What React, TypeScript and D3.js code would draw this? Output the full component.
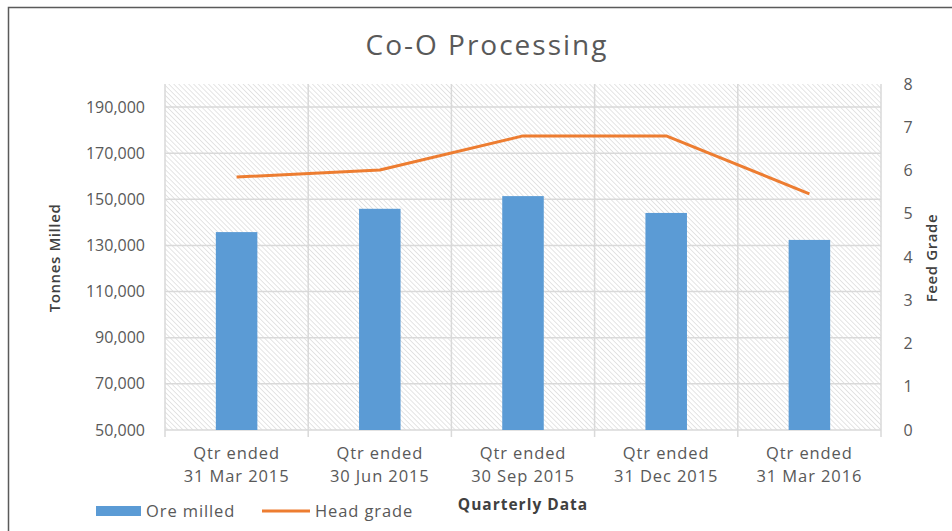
import React, { useEffect, useRef } from "react";
import * as d3 from "d3";

const categories = [
  ["Qtr ended", "31 Mar 2015"],
  ["Qtr ended", "30 Jun 2015"],
  ["Qtr ended", "30 Sep 2015"],
  ["Qtr ended", "31 Dec 2015"],
  ["Qtr ended", "31 Mar 2016"],
];
const oreMilled = [135800, 145900, 151400, 144100, 132400];
const headGrade = [5.85, 6.01, 6.8, 6.8, 5.46];
const leftTicks = [50000, 70000, 90000, 110000, 130000, 150000, 170000, 190000];
const rightTicks = [0, 1, 2, 3, 4, 5, 6, 7, 8];

const FONT = "'Open Sans', 'DejaVu Sans', sans-serif";

const App: React.FC = () => {
  const svgRef = useRef<SVGSVGElement>(null);

  const drawChart = () => {
    const width = 952,
      height = 531;
    const plot = { left: 165, right: 881, top: 84, bottom: 430 };

    const svg = d3.select(svgRef.current);
    svg.selectAll("*").remove();

    // hatch pattern for plot background (lines running top-left to bottom-right)
    const defs = svg.append("defs");
    const pat = defs
      .append("pattern")
      .attr("id", "hatch")
      .attr("width", 3.5)
      .attr("height", 3.5)
      .attr("patternUnits", "userSpaceOnUse")
      .attr("patternTransform", "rotate(-45)");
    pat.append("rect").attr("width", 3.5).attr("height", 3.5).attr("fill", "#fff");
    pat
      .append("line")
      .attr("x1", 0)
      .attr("y1", 0)
      .attr("x2", 0)
      .attr("y2", 3.5)
      .attr("stroke", "#d3d3d3")
      .attr("stroke-width", 1.2);

    svg.append("rect").attr("width", width).attr("height", height).attr("fill", "#fff");

    // outer border (top & left visible)
    svg
      .append("path")
      .attr("d", `M8.5,${height} V7.5 H${width}`)
      .attr("fill", "none")
      .attr("stroke", "#5a5a5a")
      .attr("stroke-width", 1.5);

    const x = d3
      .scaleBand()
      .domain(categories.map((_, i) => String(i)))
      .range([plot.left, plot.right]);
    const yL = d3.scaleLinear().domain([50000, 200000]).range([plot.bottom, plot.top]);
    const yR = d3.scaleLinear().domain([0, 8]).range([plot.bottom, plot.top]);

    svg
      .append("rect")
      .attr("x", plot.left)
      .attr("y", plot.top)
      .attr("width", plot.right - plot.left)
      .attr("height", plot.bottom - plot.top)
      .attr("fill", "url(#hatch)");

    // horizontal gridlines
    svg
      .append("g")
      .selectAll("line")
      .data(leftTicks)
      .join("line")
      .attr("x1", plot.left)
      .attr("x2", plot.right)
      .attr("y1", (d) => yL(d))
      .attr("y2", (d) => yL(d))
      .attr("stroke", "#d9d9d9")
      .attr("stroke-width", 1.5);

    // vertical category gridlines
    const bounds = categories.map((_, i) => x(String(i))!).concat([plot.right]);
    svg
      .append("g")
      .selectAll("line")
      .data(bounds)
      .join("line")
      .attr("x1", (d) => d)
      .attr("x2", (d) => d)
      .attr("y1", plot.top)
      .attr("y2", plot.bottom + 7)
      .attr("stroke", "#d9d9d9")
      .attr("stroke-width", 1.5);

    // bars
    const barW = x.bandwidth() * 0.29;
    svg
      .append("g")
      .selectAll("rect")
      .data(oreMilled)
      .join("rect")
      .attr("x", (_, i) => x(String(i))! + x.bandwidth() / 2 - barW / 2)
      .attr("y", (d) => yL(d))
      .attr("width", barW)
      .attr("height", (d) => plot.bottom - yL(d))
      .attr("fill", "#5b9bd5");

    // line
    const line = d3
      .line<number>()
      .x((_, i) => x(String(i))! + x.bandwidth() / 2)
      .y((d) => yR(d));
    svg
      .append("path")
      .datum(headGrade)
      .attr("d", line)
      .attr("fill", "none")
      .attr("stroke", "#ed7d31")
      .attr("stroke-width", 3)
      .attr("stroke-linejoin", "round");

    const txt = "#595959";

    // left axis labels
    svg
      .append("g")
      .selectAll("text")
      .data(leftTicks)
      .join("text")
      .attr("x", 145)
      .attr("y", (d) => yL(d))
      .attr("dy", "0.35em")
      .attr("text-anchor", "end")
      .attr("font-family", FONT)
      .attr("font-size", 16)
      .attr("fill", txt)
      .text((d) => d3.format(",")(d));

    // right axis labels
    svg
      .append("g")
      .selectAll("text")
      .data(rightTicks)
      .join("text")
      .attr("x", 908)
      .attr("y", (d) => yR(d))
      .attr("dy", "0.35em")
      .attr("text-anchor", "middle")
      .attr("font-family", FONT)
      .attr("font-size", 16)
      .attr("fill", txt)
      .text((d) => d);

    // category labels
    const cat = svg
      .append("g")
      .selectAll("text")
      .data(categories)
      .join("text")
      .attr("x", (_, i) => x(String(i))! + x.bandwidth() / 2)
      .attr("y", 459)
      .attr("text-anchor", "middle")
      .attr("font-family", FONT)
      .attr("font-size", 16.5)
      .attr("letter-spacing", 0.9)
      .attr("fill", txt);
    cat
      .append("tspan")
      .attr("x", (_, i) => x(String(i))! + x.bandwidth() / 2)
      .text((d) => d[0]);
    cat
      .append("tspan")
      .attr("x", (_, i) => x(String(i))! + x.bandwidth() / 2)
      .attr("dy", 23)
      .text((d) => d[1]);

    // title
    svg
      .append("text")
      .attr("x", 487)
      .attr("y", 55)
      .attr("text-anchor", "middle")
      .attr("font-family", FONT)
      .attr("font-size", 28)
      .attr("letter-spacing", 2)
      .attr("fill", txt)
      .text("Co-O Processing");

    // axis titles
    svg
      .append("text")
      .attr("transform", `translate(60,258) rotate(-90)`)
      .attr("text-anchor", "middle")
      .attr("font-family", FONT)
      .attr("font-size", 15)
      .attr("letter-spacing", 0.6)
      .attr("font-weight", 600)
      .attr("fill", "#404040")
      .text("Tonnes Milled");
    svg
      .append("text")
      .attr("transform", `translate(937,258) rotate(-90)`)
      .attr("text-anchor", "middle")
      .attr("font-family", FONT)
      .attr("font-size", 15)
      .attr("letter-spacing", 0.6)
      .attr("font-weight", 600)
      .attr("fill", "#404040")
      .text("Feed Grade");
    svg
      .append("text")
      .attr("x", 523)
      .attr("y", 510)
      .attr("text-anchor", "middle")
      .attr("font-family", FONT)
      .attr("font-size", 15.5)
      .attr("letter-spacing", 1)
      .attr("font-weight", 700)
      .attr("fill", "#404040")
      .text("Quarterly Data");

    // legend
    const lg = svg
      .append("g")
      .attr("font-family", FONT)
      .attr("font-size", 16.5)
      .attr("letter-spacing", 0.9)
      .attr("fill", txt);
    lg.append("rect").attr("x", 96).attr("y", 506).attr("width", 45).attr("height", 10).attr("fill", "#5b9bd5");
    lg.append("text").attr("x", 146).attr("y", 517).text("Ore milled");
    lg.append("line")
      .attr("x1", 262)
      .attr("x2", 310)
      .attr("y1", 511)
      .attr("y2", 511)
      .attr("stroke", "#ed7d31")
      .attr("stroke-width", 3);
    lg.append("text").attr("x", 315).attr("y", 517).text("Head grade");
  };

  useEffect(drawChart, []);

  return (
    <div style={{ position: "fixed", left: 0, top: 0 }}>
      <svg ref={svgRef} width={952} height={531} style={{ display: "block" }} />
    </div>
  );
};

export default App;
